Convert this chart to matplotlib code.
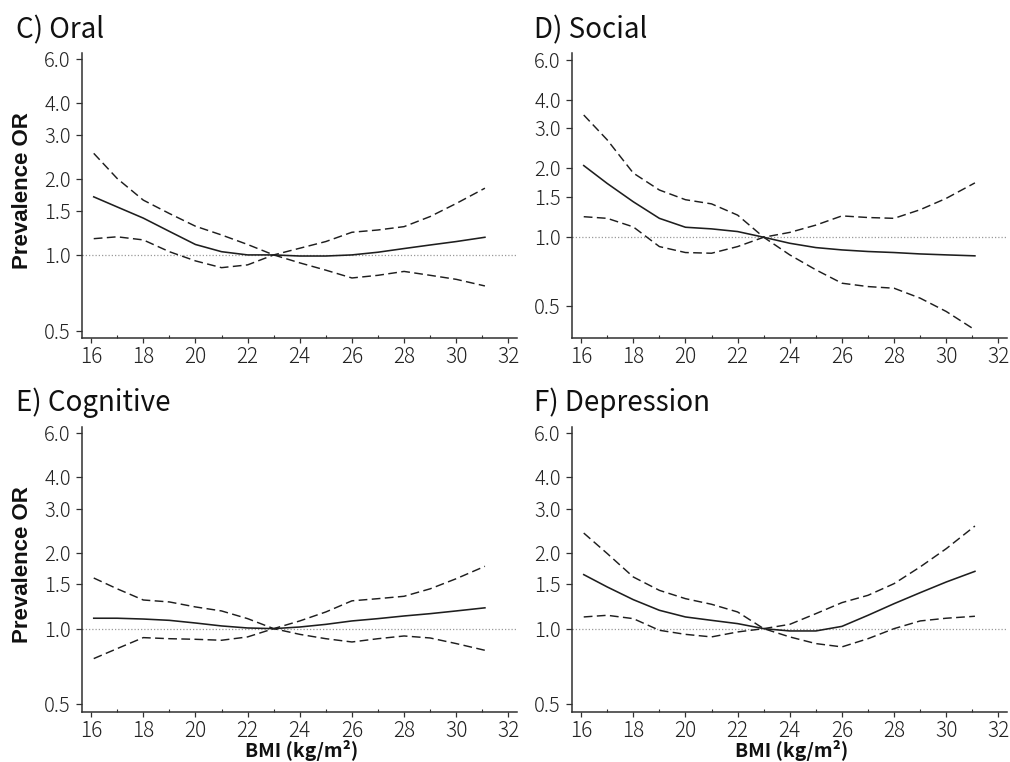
import matplotlib
matplotlib.use("Agg")
import matplotlib.pyplot as plt
from matplotlib.ticker import FixedLocator, FixedFormatter, NullFormatter

plt.rcParams['font.family'] = ['Noto Sans CJK JP', 'DejaVu Sans']

bmi = [16.1, 17, 18, 19, 20, 21, 22, 23, 24, 25, 26, 27, 28, 29, 30, 31.1]

oral_or = [1.70, 1.55, 1.40, 1.24, 1.10, 1.03, 1.00, 1.00, 0.99, 0.99, 1.00, 1.025, 1.06, 1.095, 1.13, 1.175]
oral_ci_a = [2.53, 2.01, 1.65, 1.46, 1.30, 1.20, 1.10, 1.00, 0.93, 0.87, 0.81, 0.83, 0.86, 0.83, 0.80, 0.753]
oral_ci_b = [1.16, 1.18, 1.147, 1.03, 0.947, 0.89, 0.913, 1.00, 1.063, 1.13, 1.23, 1.256, 1.295, 1.42, 1.60, 1.84]

social_or = [2.06, 1.72, 1.43, 1.21, 1.106, 1.088, 1.059, 1.00, 0.941, 0.901, 0.880, 0.866, 0.857, 0.845, 0.837, 0.829]
social_ci_a = [3.43, 2.67, 1.91, 1.61, 1.46, 1.40, 1.25, 1.00, 0.837, 0.72, 0.629, 0.608, 0.598, 0.541, 0.473, 0.393]
social_ci_b = [1.23, 1.21, 1.11, 0.91, 0.857, 0.851, 0.91, 1.00, 1.05, 1.13, 1.24, 1.22, 1.21, 1.32, 1.48, 1.73]

cog_or = [1.10, 1.10, 1.092, 1.079, 1.053, 1.025, 1.006, 1.00, 1.015, 1.04, 1.073, 1.096, 1.123, 1.147, 1.176, 1.21]
cog_ci_a = [1.59, 1.44, 1.30, 1.277, 1.22, 1.176, 1.096, 1.00, 0.949, 0.912, 0.885, 0.912, 0.935, 0.918, 0.872, 0.82]
cog_ci_b = [0.76, 0.833, 0.921, 0.912, 0.907, 0.899, 0.927, 1.00, 1.073, 1.165, 1.29, 1.316, 1.345, 1.44, 1.58, 1.77]

dep_or = [1.64, 1.465, 1.304, 1.183, 1.113, 1.079, 1.047, 1.00, 0.979, 0.979, 1.021, 1.13, 1.257, 1.39, 1.533, 1.69]
dep_ci_a = [2.40, 1.99, 1.605, 1.42, 1.316, 1.25, 1.165, 1.00, 0.927, 0.872, 0.846, 0.912, 1.00, 1.073, 1.10, 1.12]
dep_ci_b = [1.113, 1.13, 1.096, 0.985, 0.949, 0.927, 0.97, 1.00, 1.04, 1.147, 1.269, 1.357, 1.51, 1.76, 2.08, 2.56]

titles = ["C) Oral", "D) Social", "E) Cognitive", "F) Depression"]
ytick_vals = [0.5, 1.0, 1.5, 2.0, 3.0, 4.0, 6.0]
ytick_labels = ["0.5", "1.0", "1.5", "2.0", "3.0", "4.0", "6.0"]
xtick_vals = [16, 18, 20, 22, 24, 26, 28, 30, 32]
xminor_vals = [17, 19, 21, 23, 25, 27, 29, 31]

panels = [
    (oral_or, oral_ci_a, oral_ci_b),
    (social_or, social_ci_a, social_ci_b),
    (cog_or, cog_ci_a, cog_ci_b),
    (dep_or, dep_ci_a, dep_ci_b),
]

W, H = 1010, 762
fig = plt.figure(figsize=(W / 100, H / 100), dpi=100)

positions = [
    (82, 53, 517, 338),
    (572, 53, 1007, 338),
    (82, 427, 517, 712),
    (572, 427, 1007, 712),
]
ylims = [(0.468, 6.33), (0.362, 6.41), (0.466, 6.34), (0.466, 6.34)]
title_pos = [(16, 38), (534, 38), (16, 411.5), (534, 411)]

ink = "#1e1e1e"
for i, ((orv, cia, cib), (l, t, r, b)) in enumerate(zip(panels, positions)):
    ax = fig.add_axes([l / W, 1 - b / H, (r - l) / W, (b - t) / H])
    ax.set_yscale('log')
    ax.set_xlim(15.65, 32.33)
    ax.set_ylim(*ylims[i])
    ax.axhline(1.0, color="#9a9a9a", lw=0.9, ls=(0, (1, 1.6)), zorder=1)
    ax.plot(bmi, orv, color=ink, lw=1.15, zorder=3)
    ax.plot(bmi, cia, color=ink, lw=1.05, ls=(0, (6, 3)), zorder=3)
    ax.plot(bmi, cib, color=ink, lw=1.05, ls=(0, (6, 3)), zorder=3)

    ax.yaxis.set_major_locator(FixedLocator(ytick_vals))
    ax.yaxis.set_major_formatter(FixedFormatter(ytick_labels))
    ax.yaxis.set_minor_locator(FixedLocator([]))
    ax.yaxis.set_minor_formatter(NullFormatter())
    ax.xaxis.set_major_locator(FixedLocator(xtick_vals))
    ax.xaxis.set_minor_locator(FixedLocator(xminor_vals))

    for s in ['top', 'right']:
        ax.spines[s].set_visible(False)
    for s in ['left', 'bottom']:
        ax.spines[s].set_color("#303030")
        ax.spines[s].set_linewidth(1.1)

    ax.tick_params(axis='y', which='major', direction='out', length=4, width=0.9,
                   color="#303030", labelsize=14.5, labelcolor="#222222", pad=4)
    ax.tick_params(axis='x', which='major', direction='out', length=3.5, width=0.9,
                   color="#303030", labelsize=15, labelcolor="#222222", pad=2)
    ax.tick_params(axis='x', which='minor', direction='in', length=2.5, width=0.8,
                   color="#303030")
    for lab in ax.get_xticklabels() + ax.get_yticklabels():
        lab.set_fontweight('light')

    tx, ty = title_pos[i]
    fig.text(tx / W, 1 - ty / H, titles[i], fontsize=20, color="#111111",
             ha='left', va='baseline')

    if i in (0, 2):
        cy = (t + b) / 2 - 5
        fig.text(23 / W, 1 - cy / H, "Prevalence OR", rotation=90, fontsize=16,
                 fontweight='bold',
                 family=['Liberation Sans', 'DejaVu Sans'],
                 ha='center', va='center', color="#111111")
    if i in (2, 3):
        cx = (l + r) / 2 + 2
        fig.text(cx / W, 1 - 757 / H, "BMI (kg/m²)", fontsize=14,
                 fontweight='bold', ha='center', va='baseline', color="#111111")

fig.savefig("out.png", dpi=100, facecolor="white")
